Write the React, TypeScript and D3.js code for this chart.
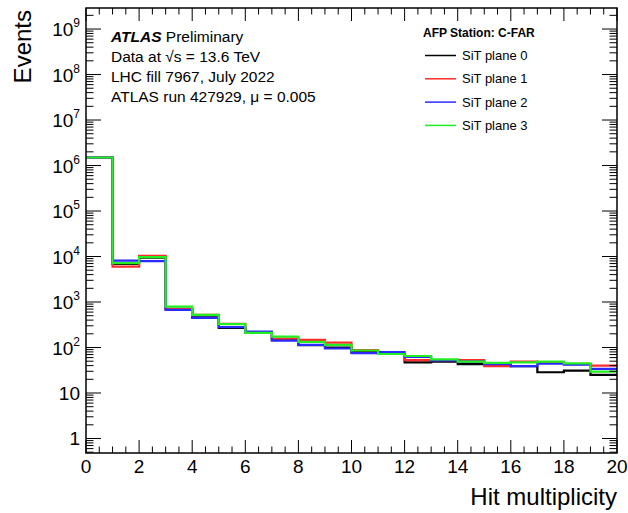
import React from "react";
import * as d3 from "d3";

// bin edges 0..20, one value per unit bin
const binEdges = d3.range(0, 21);
const plane0 = [1.5e6, 6900, 9500, 705, 460, 270, 215, 148, 112, 100, 80, 72, 47, 49, 43, 43, 39, 28.6, 31, 25];
const plane1 = [1.5e6, 6000, 10300, 700, 520, 330, 215, 157, 147, 128, 88, 72, 53, 53, 53, 39, 49, 46, 43, 40];
const plane2 = [1.5e6, 8130, 7890, 670, 447, 280, 223, 141, 114, 95, 75, 79, 62, 52, 49, 43, 39, 44, 42, 34];
const plane3 = [1.5e6, 7130, 9660, 790, 520, 325, 209, 173, 133, 114, 86, 72, 65, 55, 49, 46, 47, 49, 45, 29.5];

const seriesNames = ["SiT plane 0", "SiT plane 1", "SiT plane 2", "SiT plane 3"];
const seriesColors = ["#000000", "#ff2a2a", "#2a2aff", "#22ee22"];
const allSeries = [plane0, plane1, plane2, plane3];

const xTickLabels = [0, 2, 4, 6, 8, 10, 12, 14, 16, 18, 20];
const yDecades = [0, 1, 2, 3, 4, 5, 6, 7, 8, 9];

const infoLines = ["Data at \u221As = 13.6 TeV", "LHC fill 7967, July 2022", "ATLAS run 427929, \u03bc = 0.005"];

const W = 628;
const H = 513;
const left = 86, right = 617, top = 8, bottom = 453;
const font = "'Liberation Sans', Arial, Helvetica, sans-serif";

const App = () => {
  const x = d3.scaleLinear().domain([0, 20]).range([left, right]);
  const y = d3.scaleLog().domain([0.48, 2.9e9]).range([bottom, top]);

  const line = d3
    .line<[number, number]>()
    .x(d => x(d[0]))
    .y(d => y(d[1]))
    .curve(d3.curveStepAfter);

  // minor ticks for log axis
  const [y0, y1] = y.domain();
  const yMinor: number[] = [];
  for (let d = -1; d <= 9; d++) {
    for (let k = 2; k <= 9; k++) {
      const v = k * Math.pow(10, d);
      if (v >= y0 && v <= y1) yMinor.push(v);
    }
  }
  const xMinor = d3.range(0, 20.01, 0.5).filter(v => v % 2 !== 0);

  const yMajLen = 15, yMinLen = 7.5;
  const xMajLen = 13, xMinLen = 6.5;

  return (
    <svg
      width={W}
      height={H}
      style={{ position: "absolute", left: 0, top: 0, background: "#fff" }}
      fontFamily={font}
    >
      <rect x={0} y={0} width={W} height={H} fill="#fff" />

      {/* histograms */}
      {allSeries.map((s, i) => {
        const pts: [number, number][] = binEdges.map((e, j) => [e, s[Math.min(j, s.length - 1)]]);
        return (
          <path
            key={i}
            d={line(pts) || ""}
            fill="none"
            stroke={seriesColors[i]}
            strokeWidth={2.2}
          />
        );
      })}

      {/* y ticks left and right */}
      {yDecades.map(d => {
        const yy = y(Math.pow(10, d));
        return (
          <g key={"yM" + d} stroke="#000" strokeWidth={1}>
            <line x1={left} x2={left + yMajLen} y1={yy} y2={yy} />
            <line x1={right} x2={right - yMajLen} y1={yy} y2={yy} />
          </g>
        );
      })}
      {yMinor.map((v, i) => {
        const yy = y(v);
        return (
          <g key={"ym" + i} stroke="#000" strokeWidth={1}>
            <line x1={left} x2={left + yMinLen} y1={yy} y2={yy} />
            <line x1={right} x2={right - yMinLen} y1={yy} y2={yy} />
          </g>
        );
      })}

      {/* x ticks bottom and top */}
      {xTickLabels.map(v => (
        <g key={"xM" + v} stroke="#000" strokeWidth={1}>
          <line x1={x(v)} x2={x(v)} y1={bottom} y2={bottom - xMajLen} />
          <line x1={x(v)} x2={x(v)} y1={top} y2={top + xMajLen} />
        </g>
      ))}
      {xMinor.map((v, i) => (
        <g key={"xm" + i} stroke="#000" strokeWidth={1}>
          <line x1={x(v)} x2={x(v)} y1={bottom} y2={bottom - xMinLen} />
          <line x1={x(v)} x2={x(v)} y1={top} y2={top + xMinLen} />
        </g>
      ))}

      {/* frame */}
      <rect x={left} y={top} width={right - left} height={bottom - top} fill="none" stroke="#000" strokeWidth={1.5} />

      {/* y tick labels */}
      {yDecades.map(d => {
        const yy = y(Math.pow(10, d));
        if (d === 0)
          return (
            <text key={"yl" + d} x={left - 6} y={yy + 7} textAnchor="end" fontSize={19}>1</text>
          );
        if (d === 1)
          return (
            <text key={"yl" + d} x={left - 6} y={yy + 7} textAnchor="end" fontSize={19}>10</text>
          );
        return (
          <text key={"yl" + d} x={left - 6} y={yy + 7} textAnchor="end" fontSize={19}>
            10<tspan fontSize={12} dy={-9}>{d}</tspan>
          </text>
        );
      })}

      {/* x tick labels */}
      {xTickLabels.map(v => (
        <text key={"xl" + v} x={x(v)} y={bottom + 20} textAnchor="middle" fontSize={19}>{v}</text>
      ))}

      {/* axis titles */}
      <text x={right} y={505} textAnchor="end" fontSize={24}>Hit multiplicity</text>
      <text transform={`translate(31,${top + 2}) rotate(-90)`} textAnchor="end" fontSize={24}>Events</text>

      {/* ATLAS label */}
      <text x={111} y={42} fontSize={15.5}>
        <tspan fontWeight="bold" fontStyle="italic">ATLAS</tspan> Preliminary
      </text>
      {infoLines.map((t, i) => (
        <text key={t} x={111} y={62 + i * 20} fontSize={15.5}>{t}</text>
      ))}

      {/* legend */}
      <text x={423} y={37} fontSize={12} fontWeight="bold">AFP Station: C-FAR</text>
      {seriesNames.map((n, i) => {
        const yy = 55.5 + i * 23.3;
        return (
          <g key={n}>
            <line x1={425} x2={456} y1={yy} y2={yy} stroke={seriesColors[i]} strokeWidth={1.5} />
            <text x={462} y={yy + 4.5} fontSize={13}>{n}</text>
          </g>
        );
      })}
    </svg>
  );
};

export default App;
